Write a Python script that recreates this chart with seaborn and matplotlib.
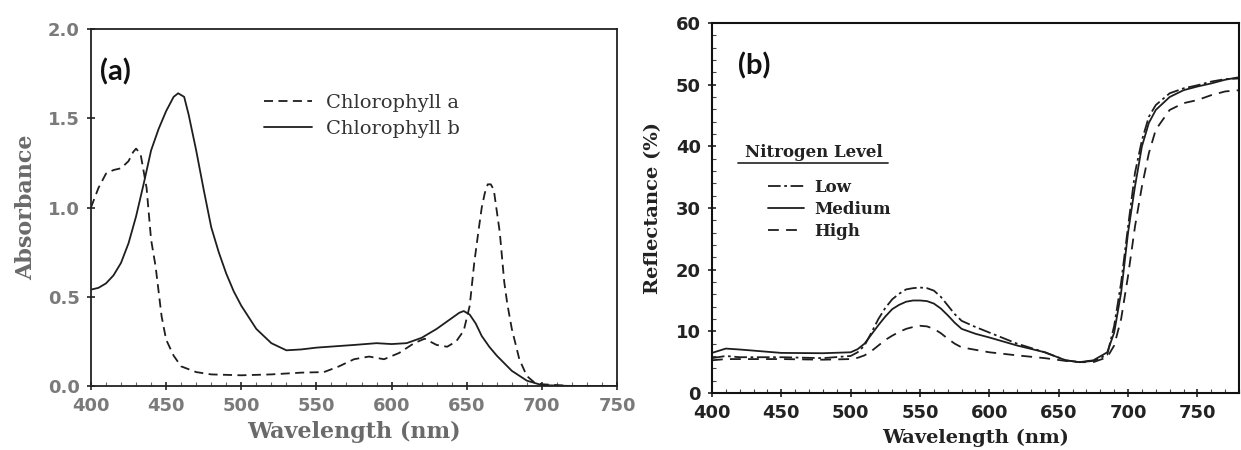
import numpy as np
import pandas as pd
import matplotlib
matplotlib.use("Agg")
import matplotlib.pyplot as plt
import seaborn as sns

# ---------------- Data: panel (a) absorbance ----------------
chl_a_wl = [400, 405, 410, 415, 420, 425, 428, 430, 433, 437, 440, 443, 447, 450, 455, 460,
            470, 480, 500, 520, 540, 555, 565, 575, 585, 595, 605, 615, 622, 630, 637,
            643, 648, 652, 655, 658, 660, 662, 664, 666, 668, 670, 672, 675, 677, 680, 685,
            690, 695, 700, 720, 750]
chl_a_abs = [1.00, 1.11, 1.19, 1.21, 1.22, 1.26, 1.31, 1.33, 1.30, 1.11, 0.82, 0.67, 0.39, 0.26, 0.17, 0.11,
             0.078, 0.065, 0.06, 0.065, 0.075, 0.078, 0.11, 0.15, 0.165, 0.15, 0.185, 0.24, 0.265, 0.23, 0.22,
             0.25, 0.31, 0.45, 0.69, 0.88, 1.00, 1.08, 1.13, 1.13, 1.10, 0.98, 0.86, 0.58, 0.46, 0.32, 0.15,
             0.056, 0.02, 0.01, 0.0, 0.0]

chl_b_wl = [400, 405, 410, 415, 420, 425, 430, 435, 440, 445, 450, 455, 458, 462, 465, 470, 475,
            480, 485, 490, 495, 500, 510, 520, 530, 540, 550, 575, 590, 600, 610, 620, 630, 640,
            645, 648, 652, 656, 660, 665, 670, 680, 690, 700, 720, 750]
chl_b_abs = [0.54, 0.55, 0.575, 0.62, 0.69, 0.80, 0.95, 1.13, 1.32, 1.44, 1.54, 1.62, 1.64, 1.62, 1.52, 1.32, 1.10,
             0.89, 0.75, 0.63, 0.53, 0.45, 0.32, 0.24, 0.20, 0.205, 0.215, 0.23, 0.24, 0.235, 0.24, 0.27, 0.32, 0.38,
             0.41, 0.42, 0.40, 0.35, 0.28, 0.22, 0.17, 0.085, 0.03, 0.005, 0.0, 0.0]

# ---------------- Data: panel (b) reflectance ----------------
refl_wl = [400, 410, 420, 450, 480, 500, 505, 510, 515, 520, 525, 530, 535, 540, 545, 550, 555, 560,
           565, 570, 575, 580, 590, 600, 620, 640, 655, 665, 675, 685, 690, 695, 700, 705, 710, 715,
           720, 730, 740, 750, 760, 770, 780]
refl_low = [5.65, 6.0, 5.8, 5.8, 5.65, 6.0, 6.6, 7.7, 9.8, 12.0, 13.8, 15.2, 16.1, 16.8, 17.0, 17.1, 17.0, 16.6,
            15.6, 14.2, 12.8, 11.7, 10.7, 9.8, 8.0, 6.6, 5.3, 5.0, 5.2, 6.2, 10.9, 17.9, 27.0, 35.7, 41.0, 44.8,
            46.7, 48.6, 49.4, 49.9, 50.5, 50.9, 51.0]
refl_medium = [6.5, 7.2, 7.05, 6.5, 6.45, 6.6, 7.1, 8.0, 9.5, 11.0, 12.4, 13.6, 14.3, 14.8, 15.0, 15.0, 14.9, 14.5,
               13.7, 12.6, 11.4, 10.4, 9.6, 9.0, 7.7, 6.6, 5.3, 5.0, 5.3, 6.6, 9.8, 16.3, 26.0, 33.5, 40.0, 43.8,
               45.9, 48.0, 49.1, 49.7, 50.2, 50.8, 51.2]
refl_high = [5.3, 5.5, 5.5, 5.5, 5.4, 5.5, 5.7, 6.1, 6.8, 7.7, 8.6, 9.3, 9.9, 10.4, 10.7, 10.9, 10.8, 10.4,
             9.7, 8.8, 8.0, 7.4, 7.0, 6.6, 6.1, 5.65, 5.2, 5.0, 5.0, 5.8, 7.7, 12.0, 19.0, 27.0, 33.5, 38.9,
             42.7, 45.9, 47.0, 47.5, 48.3, 48.9, 49.1]

pigments = ["Chlorophyll a", "Chlorophyll b"]
levels = ["Low", "Medium", "High"]
x_ticks = [400, 450, 500, 550, 600, 650, 700, 750]
a_yticks = [0.0, 0.5, 1.0, 1.5, 2.0]
a_yticklabels = ["0.0", "0.5", "1.0", "1.5", "2.0"]
b_yticks = [0, 10, 20, 30, 40, 50, 60]

df_a = pd.concat([
    pd.DataFrame({"Wavelength": chl_a_wl, "Absorbance": chl_a_abs, "Pigment": pigments[0]}),
    pd.DataFrame({"Wavelength": chl_b_wl, "Absorbance": chl_b_abs, "Pigment": pigments[1]}),
], ignore_index=True)

df_b = pd.concat([
    pd.DataFrame({"Wavelength": refl_wl, "Reflectance": refl_low, "Level": levels[0]}),
    pd.DataFrame({"Wavelength": refl_wl, "Reflectance": refl_medium, "Level": levels[1]}),
    pd.DataFrame({"Wavelength": refl_wl, "Reflectance": refl_high, "Level": levels[2]}),
], ignore_index=True)

sns.set_theme(style="ticks")
plt.rcParams["font.family"] = ["DejaVu Sans"]

fig = plt.figure(figsize=(12.41, 4.5), dpi=100)
fig.patch.set_facecolor("white")

LINE = "#1e1e1e"
serif_bold = dict(family="DejaVu Serif", weight="bold")

# ---------------- Panel (a) ----------------
ax1 = fig.add_axes([0.0733, 0.1422, 0.4239, 0.7933])
sns.lineplot(data=df_a, x="Wavelength", y="Absorbance", style="Pigment",
             style_order=pigments, dashes={pigments[0]: (5, 3), pigments[1]: ""},
             color=LINE, linewidth=1.3, legend=False, ax=ax1, estimator=None, sort=False)
ax1.set_xlim(400, 750)
ax1.set_ylim(0, 2.0)
ax1.set_xticks(x_ticks)
ax1.set_xticks(np.arange(400, 751, 10), minor=True)
ax1.set_yticks(a_yticks)
ax1.set_yticklabels(a_yticklabels)
ax1.tick_params(axis="both", which="major", direction="inout", length=6, width=1.2,
                colors="#222", labelcolor="#7a7a7a", labelsize=13, pad=5)
ax1.tick_params(axis="both", which="minor", direction="in", length=3, width=0.8, colors="#666")
for lab in ax1.get_xticklabels() + ax1.get_yticklabels():
    lab.set_fontweight("bold")
for sp in ax1.spines.values():
    sp.set_color("#222")
    sp.set_linewidth(1.3)
ax1.set_xlabel("Wavelength (nm)", fontsize=16, color="#6a6a6a", labelpad=4, **serif_bold)
ax1.set_ylabel("Absorbance", fontsize=16, color="#6a6a6a", labelpad=8, **serif_bold)
ax1.text(0.018, 0.88, "(a)", transform=ax1.transAxes, fontsize=21, fontweight="bold",
         family="Lato", color="#111", va="center", ha="left")
leg1 = ax1.legend(ax1.lines[:2], pigments, loc="upper left", bbox_to_anchor=(0.31, 0.845),
                  frameon=False, handlelength=2.5, handletextpad=0.7, labelspacing=0.4,
                  borderpad=0, prop=dict(family="DejaVu Serif", size=14))
for t in leg1.get_texts():
    t.set_color("#333")

# ---------------- Panel (b) ----------------
ax2 = fig.add_axes([0.5737, 0.1267, 0.4247, 0.8222])
sns.lineplot(data=df_b, x="Wavelength", y="Reflectance", style="Level",
             style_order=levels,
             dashes={levels[0]: (7, 2, 1.5, 2), levels[1]: "", levels[2]: (6, 4)},
             color=LINE, linewidth=1.3, legend=False, ax=ax2, estimator=None, sort=False)
ax2.set_xlim(400, 778)
ax2.set_ylim(0, 60)
ax2.set_xticks(x_ticks)
ax2.set_xticks(np.arange(400, 781, 10), minor=True)
ax2.set_yticks(b_yticks)
ax2.set_yticks(np.arange(0, 61, 2), minor=True)
ax2.tick_params(axis="both", which="major", direction="inout", length=6, width=1.2,
                colors="#222", labelcolor="#222", labelsize=13, pad=5)
ax2.tick_params(axis="both", which="minor", direction="in", length=3, width=0.8, colors="#444")
for lab in ax2.get_xticklabels() + ax2.get_yticklabels():
    lab.set_fontweight("bold")
for sp in ax2.spines.values():
    sp.set_color("#111")
    sp.set_linewidth(1.5)
ax2.set_xlabel("Wavelength (nm)", fontsize=14, color="#222", labelpad=5, **serif_bold)
ax2.set_ylabel("Reflectance (%)", fontsize=14, color="#222", labelpad=10, **serif_bold)
ax2.text(0.05, 0.885, "(b)", transform=ax2.transAxes, fontsize=21, fontweight="bold",
         family="Lato", color="#111", va="center", ha="left")
ax2.text(0.063, 0.651, "Nitrogen Level", transform=ax2.transAxes, fontsize=12,
         color="#222", va="center", ha="left", **serif_bold)
ax2.plot([0.049, 0.334], [0.622, 0.622], transform=ax2.transAxes, color="#333",
         linewidth=1.3, clip_on=False)
leg2 = ax2.legend(ax2.lines[:3], levels, loc="upper left", bbox_to_anchor=(0.09, 0.60),
                  frameon=False, handlelength=2.2, handletextpad=0.6, labelspacing=0.3,
                  borderpad=0, prop=dict(family="DejaVu Serif", weight="bold", size=12))
for t in leg2.get_texts():
    t.set_color("#222")

fig.savefig("out.png", dpi=100, facecolor="white")
